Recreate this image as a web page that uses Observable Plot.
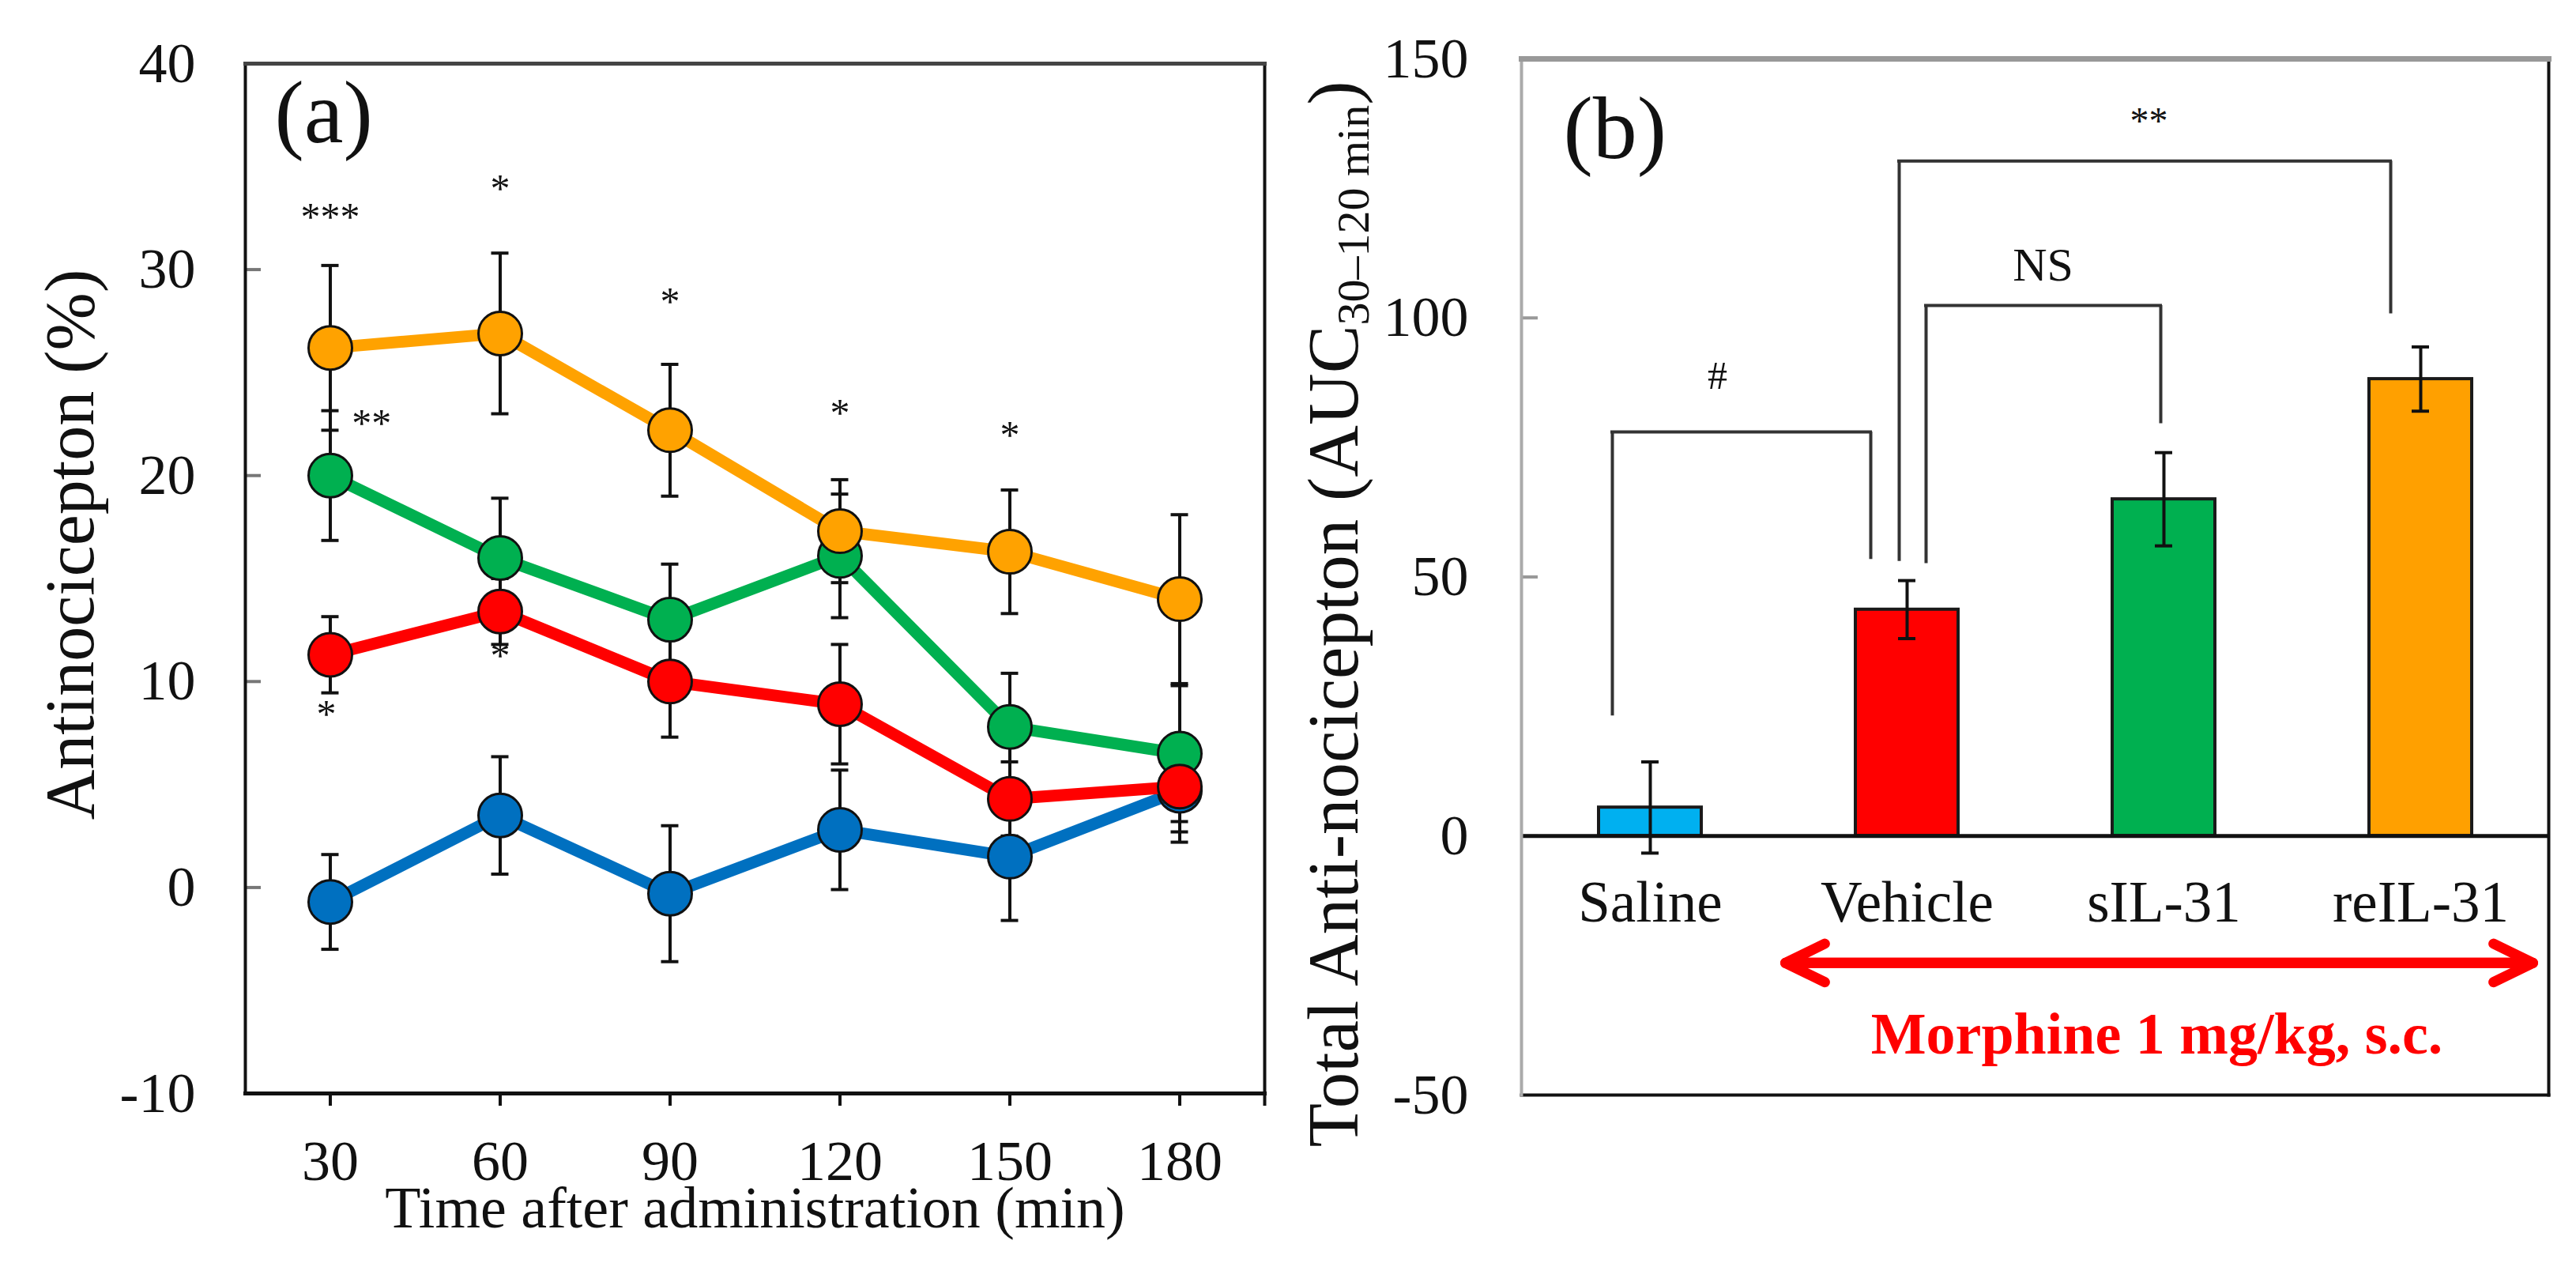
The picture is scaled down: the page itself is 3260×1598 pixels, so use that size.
<!DOCTYPE html>
<html>
<head>
<meta charset="utf-8">
<script src="https://cdn.jsdelivr.net/npm/d3@7"></script>
<script src="https://cdn.jsdelivr.net/npm/@observablehq/plot@0.6"></script>
<style>
  html, body { margin: 0; padding: 0; background: #fff; }
  #chart { display: flex; width: 3260px; height: 1598px; }
  #chart svg { display: block; flex: none; }
</style>
</head>
<body>
<div id="chart"></div>
<script>
// ---------------- Data: panel (a) ----------------
const times = [30, 60, 90, 120, 150, 180];
const groups = ["Saline", "Vehicle", "sIL-31", "reIL-31"];
const salineMean  = [-0.7, 3.5, -0.3, 2.8, 1.5, 4.7];
const salineSem   = [2.3, 2.85, 3.3, 2.9, 3.1, 2.5];
const vehicleMean = [11.3, 13.4, 10.0, 8.9, 4.3, 4.9];
const vehicleSem  = [1.85, 1.6, 2.7, 2.9, 1.8, 2.2];
const sIL31Mean   = [20.0, 16.0, 13.0, 16.1, 7.8, 6.5];
const sIL31Sem    = [3.15, 2.9, 2.7, 3.0, 2.6, 3.3];
const reIL31Mean  = [26.2, 26.9, 22.2, 17.3, 16.3, 14.0];
const reIL31Sem   = [4.0, 3.9, 3.2, 2.5, 3.0, 4.1];
const yTicksA = [-10, 0, 10, 20, 30, 40];
const sigA = [
  {t: 30, y: 32.8, label: "***"},
  {t: 60, y: 34.2, label: "*"},
  {t: 90, y: 28.7, label: "*"},
  {t: 37.3, y: 22.8, label: "**"},
  {t: 120, y: 23.3, label: "*"},
  {t: 150, y: 22.2, label: "*"},
  {t: 29.3, y: 8.65, label: "*"},
  {t: 60, y: 11.5, label: "*"}
];

// ---------------- Data: panel (b) ----------------
const aucMean = [5.5, 43.7, 65.0, 88.2];
const aucSem  = [8.8, 5.6, 9.0, 6.2];
const yTicksB = [-50, 0, 50, 100, 150];
const brackets = [
  {from: "Saline",  to: "Vehicle", top: 78.0,  endFrom: 23.2, endTo: 53.4,  label: "#",  labelY: 88.7},
  {from: "Vehicle", to: "sIL-31",  top: 102.4, endFrom: 52.6, endTo: 79.6,  label: "NS", labelY: 110.1},
  {from: "Vehicle", to: "reIL-31", top: 130.3, endFrom: 53.0, endTo: 100.8, label: "**", labelY: 139.0}
];
const morphineSpan = {from: "Vehicle", to: "reIL-31", y: -24.5};
const morphineLabel = "Morphine 1 mg/kg, s.c.";
const yLabelA = "Antinocicepton (%)";
const xLabelA = "Time after administration (min)";
const yLabelBMain = "Total Anti-nocicepton (AUC";
const yLabelBSub = "30–120 min";
const yLabelBEnd = ")";

// ---------------- Styles ----------------
const W = 1630, H = 1598;
const font = "'Liberation Serif', 'Times New Roman', Times, serif";
const colorA = ["#0070C0", "#FF0000", "#00B050", "#FFA200"];
const colorB = ["#00B0F0", "#FF0000", "#00B050", "#FFA000"];
const drawOrder = ["Saline", "sIL-31", "Vehicle", "reIL-31"];
const xDomainA = [15, 195];
const yDomainA = [-10, 40];
const yDomainB = [-50, 150];
const marginB = {left: 295, right: 35, top: 74, bottom: 213};
const padInner = 0.6, padOuter = 0.3;
const stepB = (W - marginB.left - marginB.right) / (groups.length - padInner + 2 * padOuter);
const halfBand = stepB * (1 - padInner) / 2;
// pixel offsets of bracket legs / labels from band centres
const bracketStyle = [
  {fromDx: -48, toDx: -46, labelDx: 85,  fontSize: 50, dy: 0},
  {fromDx: 24,  toDx: -4,  labelDx: 172, fontSize: 60, dy: 0},
  {fromDx: -10, toDx: -38, labelDx: 306, fontSize: 48, dy: 7}
];

const meansA = [salineMean, vehicleMean, sIL31Mean, reIL31Mean];
const semsA = [salineSem, vehicleSem, sIL31Sem, reIL31Sem];
const pointsA = groups.flatMap((g, k) => times.map((t, i) => ({group: g, t, mean: meansA[k][i], sem: semsA[k][i]})));

const errStyle = {stroke: "#111", strokeWidth: 4};

const plotA = Plot.plot({
  width: W, height: H,
  marginLeft: 310, marginRight: 30, marginTop: 80, marginBottom: 215,
  style: {fontFamily: font, background: "white", color: "#111", overflow: "visible"},
  x: {domain: xDomainA, axis: null},
  y: {domain: yDomainA, axis: null},
  color: {domain: groups, range: colorA},
  marks: [
    Plot.axisY(yTicksA.filter(v => v > yDomainA[0] && v < yDomainA[1]), {tickSize: -20, tickFormat: () => "", stroke: "#777", strokeWidth: 4, label: null}),
    Plot.axisY(yTicksA, {tickSize: 0, tickPadding: 63, fontSize: 72, tickFormat: d => String(d), label: null}),
    Plot.axisX([...times, xDomainA[1]], {tickSize: 16, tickFormat: () => "", stroke: "#111", strokeWidth: 4, label: null}),
    Plot.axisX(times, {tickSize: 0, tickPadding: 58, fontSize: 72, tickFormat: d => String(d), label: null}),
    Plot.ruleX(pointsA, {x: "t", y1: d => d.mean - d.sem, y2: d => d.mean + d.sem, ...errStyle}),
    Plot.ruleY(pointsA, {x1: "t", x2: "t", y: d => d.mean + d.sem, insetLeft: -11, insetRight: -11, ...errStyle}),
    Plot.ruleY(pointsA, {x1: "t", x2: "t", y: d => d.mean - d.sem, insetLeft: -11, insetRight: -11, ...errStyle}),
    ...drawOrder.flatMap(g => {
      const pts = pointsA.filter(d => d.group === g);
      return [
        Plot.line(pts, {x: "t", y: "mean", stroke: "group", strokeWidth: 15}),
        Plot.dot(pts, {x: "t", y: "mean", fill: "group", r: 27.5, stroke: "#111", strokeWidth: 3})
      ];
    }),
    Plot.text(sigA, {x: "t", y: "y", text: "label", fontSize: 50, dy: 7, fill: "#111"}),
    Plot.frame({anchor: "left", stroke: "#111", strokeWidth: 4}),
    Plot.frame({anchor: "right", stroke: "#111", strokeWidth: 4}),
    Plot.frame({anchor: "bottom", stroke: "#111", strokeWidth: 5}),
    Plot.frame({anchor: "top", stroke: "#444", strokeWidth: 5}),
    Plot.text(["(a)"], {text: d => d, frameAnchor: "top-left", dx: 37, dy: 20, textAnchor: "start", lineAnchor: "top", fontSize: 112, fill: "#111"}),
    Plot.text([yLabelA], {text: d => d, frameAnchor: "left", textAnchor: "middle", lineAnchor: "middle", rotate: -90, dx: -221, dy: -43, fontSize: 88, fill: "#111"}),
    Plot.text([xLabelA], {text: d => d, frameAnchor: "bottom", textAnchor: "middle", lineAnchor: "middle", dy: 146, fontSize: 74, fill: "#111"})
  ]
});

const barsB = groups.map((g, i) => ({group: g, mean: aucMean[i], sem: aucSem[i]}));

const bracketMarks = brackets.flatMap((b, i) => {
  const s = bracketStyle[i];
  const st = {stroke: "#333", strokeWidth: 4};
  return [
    Plot.ruleX([b], {x: "from", y1: "top", y2: "endFrom", dx: s.fromDx, ...st}),
    Plot.ruleX([b], {x: "to", y1: "top", y2: "endTo", dx: s.toDx, ...st}),
    Plot.ruleY([b], {x1: "from", x2: "to", y: "top", insetLeft: halfBand + s.fromDx - 2, insetRight: halfBand - s.toDx - 2, ...st}),
    Plot.text([b], {x: "from", y: "labelY", text: "label", dx: s.labelDx, dy: s.dy, fontSize: s.fontSize, fill: "#111"})
  ];
});

const yLabelBFull = yLabelBMain + yLabelBSub + yLabelBEnd;

const plotB = Plot.plot({
  width: W, height: H,
  marginLeft: marginB.left, marginRight: marginB.right, marginTop: marginB.top, marginBottom: marginB.bottom,
  style: {fontFamily: font, background: "white", color: "#111", overflow: "visible"},
  x: {domain: groups, paddingInner: padInner, paddingOuter: padOuter, axis: null},
  y: {domain: yDomainB, axis: null},
  color: {domain: groups, range: colorB},
  marks: [
    Plot.axisY(yTicksB.filter(v => v > yDomainB[0] && v < yDomainB[1]), {tickSize: -21, tickFormat: () => "", stroke: "#999", strokeWidth: 4, label: null}),
    Plot.axisY(yTicksB, {tickSize: 0, tickPadding: 67, fontSize: 72, tickFormat: d => String(d), label: null}),
    Plot.barY(barsB, {x: "group", y: "mean", fill: "group", stroke: "#1a1a1a", strokeWidth: 4}),
    Plot.ruleX(barsB, {x: "group", y1: d => d.mean - d.sem, y2: d => d.mean + d.sem, ...errStyle}),
    Plot.tickY(barsB, {x: "group", y: d => d.mean + d.sem, inset: 54, ...errStyle}),
    Plot.tickY(barsB, {x: "group", y: d => d.mean - d.sem, inset: 54, ...errStyle}),
    Plot.ruleY([0], {stroke: "#111", strokeWidth: 5}),
    ...bracketMarks,
    Plot.text(groups, {x: d => d, text: d => d, frameAnchor: "bottom", lineAnchor: "middle", dy: -243, fontSize: 73, fill: "#111"}),
    Plot.arrow([morphineSpan], {x1: "from", x2: "to", y1: "y", y2: "y", insetStart: -154, insetEnd: -142, headLength: 6.4, headAngle: 52, stroke: "#FF0000", strokeWidth: 13}),
    Plot.arrow([morphineSpan], {x1: "to", x2: "from", y1: "y", y2: "y", insetStart: -142, insetEnd: -154, headLength: 6.4, headAngle: 52, stroke: "#FF0000", strokeWidth: 13}),
    Plot.text([morphineLabel], {text: d => d, frameAnchor: "bottom", textAnchor: "middle", lineAnchor: "middle", dx: 154, dy: -76, fontSize: 74, fontWeight: "bold", fill: "#FF0000"}),
    Plot.frame({anchor: "right", stroke: "#111", strokeWidth: 4}),
    Plot.frame({anchor: "bottom", stroke: "#111", strokeWidth: 4}),
    Plot.frame({anchor: "left", stroke: "#aaa", strokeWidth: 4}),
    Plot.frame({anchor: "top", stroke: "#999", strokeWidth: 7}),
    Plot.text(["(b)"], {text: d => d, frameAnchor: "top-left", dx: 53, dy: 46, textAnchor: "start", lineAnchor: "top", fontSize: 112, fill: "#111"}),
    Plot.text([yLabelBFull], {text: d => d, frameAnchor: "left", textAnchor: "middle", lineAnchor: "middle", rotate: -90, dx: -237, dy: 47, fontSize: 91, fill: "#111"})
  ]
});

const chart = document.getElementById("chart");
chart.appendChild(plotA);
chart.appendChild(plotB);

// subscript in the panel (b) axis label
const lab = Array.from(plotB.querySelectorAll("text")).find(t => t.textContent === yLabelBFull);
if (lab) {
  const ns = "http://www.w3.org/2000/svg";
  while (lab.firstChild) lab.removeChild(lab.firstChild);
  const parts = [
    {t: yLabelBMain, size: null, dy: null},
    {t: yLabelBSub, size: 58, dy: "14"},
    {t: yLabelBEnd, size: null, dy: "-14"}
  ];
  for (const p of parts) {
    const ts = document.createElementNS(ns, "tspan");
    ts.textContent = p.t;
    if (p.size) ts.setAttribute("font-size", p.size);
    if (p.dy) ts.setAttribute("dy", p.dy);
    lab.appendChild(ts);
  }
}
</script>
</body>
</html>
